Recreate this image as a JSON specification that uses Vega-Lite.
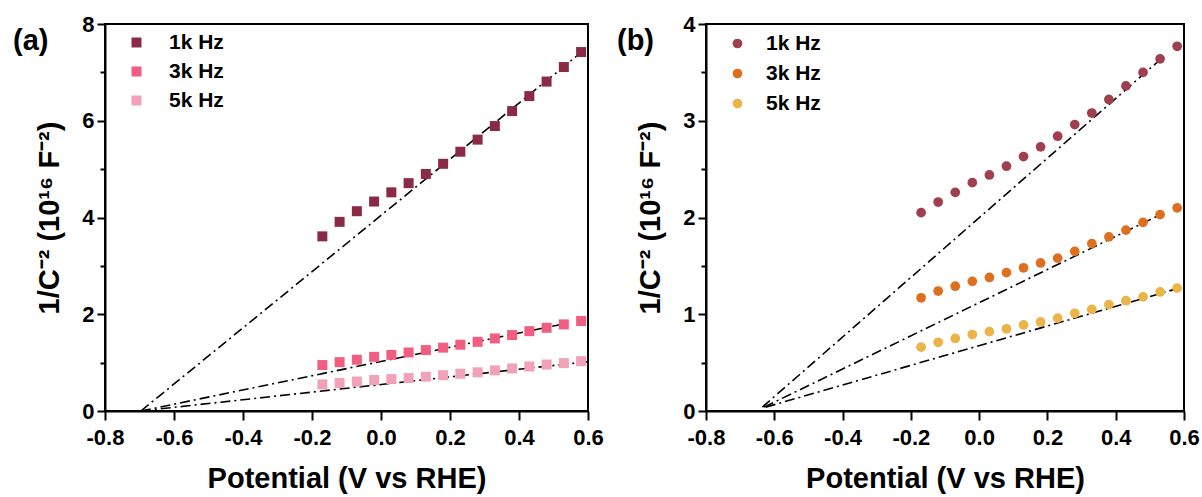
{
  "$schema": "https://vega.github.io/schema/vega-lite/v6.json",
  "background": "white",
  "padding": {"left": 12, "top": 12, "right": 0, "bottom": 0},
  "config": {
    "font": "Liberation Sans",
    "view": {"stroke": "black", "strokeWidth": 2},
    "axis": {
      "grid": false,
      "domainColor": "black",
      "domainWidth": 2,
      "tickColor": "black",
      "tickWidth": 2,
      "labelFont": "Liberation Sans",
      "labelFontSize": 22,
      "labelFontWeight": "bold",
      "labelColor": "black",
      "labelFlush": false,
      "labelOverlap": false,
      "titleFont": "Liberation Sans",
      "titleFontSize": 29,
      "titleFontWeight": "bold",
      "titleColor": "black"
    },
    "legend": {
      "orient": "none",
      "title": null,
      "labelFont": "Liberation Sans",
      "labelFontSize": 21,
      "labelFontWeight": "bold",
      "labelColor": "black",
      "padding": 0
    },
    "title": {
      "font": "Liberation Sans",
      "fontSize": 29,
      "fontWeight": "bold",
      "color": "black",
      "anchor": "start",
      "frame": "group",
      "baseline": "alphabetic",
      "offset": 0
    }
  },
  "datasets": {
    "a_pts": [
      {"v": -0.17, "c": 3.61, "f": "1k Hz"}, {"v": -0.12, "c": 3.91, "f": "1k Hz"},
      {"v": -0.07, "c": 4.13, "f": "1k Hz"}, {"v": -0.02, "c": 4.33, "f": "1k Hz"},
      {"v": 0.03, "c": 4.52, "f": "1k Hz"}, {"v": 0.08, "c": 4.71, "f": "1k Hz"},
      {"v": 0.13, "c": 4.9, "f": "1k Hz"}, {"v": 0.18, "c": 5.11, "f": "1k Hz"},
      {"v": 0.23, "c": 5.36, "f": "1k Hz"}, {"v": 0.28, "c": 5.61, "f": "1k Hz"},
      {"v": 0.33, "c": 5.89, "f": "1k Hz"}, {"v": 0.38, "c": 6.2, "f": "1k Hz"},
      {"v": 0.43, "c": 6.51, "f": "1k Hz"}, {"v": 0.48, "c": 6.81, "f": "1k Hz"},
      {"v": 0.53, "c": 7.11, "f": "1k Hz"}, {"v": 0.58, "c": 7.42, "f": "1k Hz"},
      {"v": -0.17, "c": 0.95, "f": "3k Hz"}, {"v": -0.12, "c": 1.01, "f": "3k Hz"},
      {"v": -0.07, "c": 1.06, "f": "3k Hz"}, {"v": -0.02, "c": 1.12, "f": "3k Hz"},
      {"v": 0.03, "c": 1.16, "f": "3k Hz"}, {"v": 0.08, "c": 1.21, "f": "3k Hz"},
      {"v": 0.13, "c": 1.26, "f": "3k Hz"}, {"v": 0.18, "c": 1.31, "f": "3k Hz"},
      {"v": 0.23, "c": 1.37, "f": "3k Hz"}, {"v": 0.28, "c": 1.43, "f": "3k Hz"},
      {"v": 0.33, "c": 1.5, "f": "3k Hz"}, {"v": 0.38, "c": 1.57, "f": "3k Hz"},
      {"v": 0.43, "c": 1.65, "f": "3k Hz"}, {"v": 0.48, "c": 1.72, "f": "3k Hz"},
      {"v": 0.53, "c": 1.79, "f": "3k Hz"}, {"v": 0.58, "c": 1.86, "f": "3k Hz"},
      {"v": -0.17, "c": 0.55, "f": "5k Hz"}, {"v": -0.12, "c": 0.58, "f": "5k Hz"},
      {"v": -0.07, "c": 0.61, "f": "5k Hz"}, {"v": -0.02, "c": 0.64, "f": "5k Hz"},
      {"v": 0.03, "c": 0.66, "f": "5k Hz"}, {"v": 0.08, "c": 0.68, "f": "5k Hz"},
      {"v": 0.13, "c": 0.71, "f": "5k Hz"}, {"v": 0.18, "c": 0.74, "f": "5k Hz"},
      {"v": 0.23, "c": 0.77, "f": "5k Hz"}, {"v": 0.28, "c": 0.8, "f": "5k Hz"},
      {"v": 0.33, "c": 0.84, "f": "5k Hz"}, {"v": 0.38, "c": 0.88, "f": "5k Hz"},
      {"v": 0.43, "c": 0.92, "f": "5k Hz"}, {"v": 0.48, "c": 0.96, "f": "5k Hz"},
      {"v": 0.53, "c": 0.99, "f": "5k Hz"}, {"v": 0.58, "c": 1.03, "f": "5k Hz"}
    ],
    "a_fit": [
      {"v": -0.696, "c": 0, "f": "1k Hz"}, {"v": 0.585, "c": 7.44, "f": "1k Hz"},
      {"v": -0.696, "c": 0, "f": "3k Hz"}, {"v": 0.542, "c": 1.82, "f": "3k Hz"},
      {"v": -0.696, "c": 0, "f": "5k Hz"}, {"v": 0.6, "c": 1.02, "f": "5k Hz"}
    ],
    "b_pts": [
      {"v": -0.17, "c": 2.05, "f": "1k Hz"}, {"v": -0.12, "c": 2.16, "f": "1k Hz"},
      {"v": -0.07, "c": 2.26, "f": "1k Hz"}, {"v": -0.02, "c": 2.36, "f": "1k Hz"},
      {"v": 0.03, "c": 2.44, "f": "1k Hz"}, {"v": 0.08, "c": 2.53, "f": "1k Hz"},
      {"v": 0.13, "c": 2.63, "f": "1k Hz"}, {"v": 0.18, "c": 2.73, "f": "1k Hz"},
      {"v": 0.23, "c": 2.84, "f": "1k Hz"}, {"v": 0.28, "c": 2.96, "f": "1k Hz"},
      {"v": 0.33, "c": 3.08, "f": "1k Hz"}, {"v": 0.38, "c": 3.22, "f": "1k Hz"},
      {"v": 0.43, "c": 3.36, "f": "1k Hz"}, {"v": 0.48, "c": 3.5, "f": "1k Hz"},
      {"v": 0.53, "c": 3.64, "f": "1k Hz"}, {"v": 0.58, "c": 3.77, "f": "1k Hz"},
      {"v": -0.17, "c": 1.17, "f": "3k Hz"}, {"v": -0.12, "c": 1.24, "f": "3k Hz"},
      {"v": -0.07, "c": 1.29, "f": "3k Hz"}, {"v": -0.02, "c": 1.34, "f": "3k Hz"},
      {"v": 0.03, "c": 1.38, "f": "3k Hz"}, {"v": 0.08, "c": 1.43, "f": "3k Hz"},
      {"v": 0.13, "c": 1.48, "f": "3k Hz"}, {"v": 0.18, "c": 1.53, "f": "3k Hz"},
      {"v": 0.23, "c": 1.58, "f": "3k Hz"}, {"v": 0.28, "c": 1.65, "f": "3k Hz"},
      {"v": 0.33, "c": 1.73, "f": "3k Hz"}, {"v": 0.38, "c": 1.8, "f": "3k Hz"},
      {"v": 0.43, "c": 1.87, "f": "3k Hz"}, {"v": 0.48, "c": 1.95, "f": "3k Hz"},
      {"v": 0.53, "c": 2.03, "f": "3k Hz"}, {"v": 0.58, "c": 2.1, "f": "3k Hz"},
      {"v": -0.17, "c": 0.66, "f": "5k Hz"}, {"v": -0.12, "c": 0.71, "f": "5k Hz"},
      {"v": -0.07, "c": 0.75, "f": "5k Hz"}, {"v": -0.02, "c": 0.79, "f": "5k Hz"},
      {"v": 0.03, "c": 0.82, "f": "5k Hz"}, {"v": 0.08, "c": 0.85, "f": "5k Hz"},
      {"v": 0.13, "c": 0.89, "f": "5k Hz"}, {"v": 0.18, "c": 0.92, "f": "5k Hz"},
      {"v": 0.23, "c": 0.96, "f": "5k Hz"}, {"v": 0.28, "c": 1.01, "f": "5k Hz"},
      {"v": 0.33, "c": 1.05, "f": "5k Hz"}, {"v": 0.38, "c": 1.1, "f": "5k Hz"},
      {"v": 0.43, "c": 1.14, "f": "5k Hz"}, {"v": 0.48, "c": 1.18, "f": "5k Hz"},
      {"v": 0.53, "c": 1.23, "f": "5k Hz"}, {"v": 0.58, "c": 1.27, "f": "5k Hz"}
    ],
    "b_fit": [
      {"v": -0.635, "c": 0.04, "f": "1k Hz"}, {"v": 0.533, "c": 3.64, "f": "1k Hz"},
      {"v": -0.63, "c": 0.04, "f": "3k Hz"}, {"v": 0.537, "c": 2.04, "f": "3k Hz"},
      {"v": -0.625, "c": 0.04, "f": "5k Hz"}, {"v": 0.595, "c": 1.28, "f": "5k Hz"}
    ]
  },
  "resolve": {
    "scale": {"color": "independent", "x": "independent", "y": "independent"},
    "legend": {"color": "independent"}
  },
  "spacing": 11,
  "hconcat": [
    {
      "width": 483,
      "height": 387,
      "title": {"text": "(a)", "dx": -92, "dy": 47},
      "layer": [
        {
          "data": {"name": "a_fit"},
          "mark": {"type": "line", "color": "black", "strokeWidth": 1.6, "strokeDash": [10, 4, 2, 4]},
          "encoding": {
            "x": {"field": "v", "type": "quantitative"},
            "y": {"field": "c", "type": "quantitative"},
            "detail": {"field": "f"}
          }
        },
        {
          "data": {"name": "a_pts"},
          "mark": {"type": "point", "shape": "square", "filled": true, "size": 100, "opacity": 1},
          "encoding": {
            "x": {
              "field": "v", "type": "quantitative",
              "scale": {"domain": [-0.8, 0.6], "nice": false, "zero": false},
              "axis": {
                "title": "Potential (V vs RHE)",
                "values": [-0.8, -0.7, -0.6, -0.5, -0.4, -0.3, -0.2, -0.1, 0, 0.1, 0.2, 0.3, 0.4, 0.5, 0.6],
                "labelExpr": "abs(round(datum.value*10)) % 2 == 0 ? (datum.value < 0 ? '-' : '') + format(abs(datum.value), '.1f') : ''",
                "tickSize": {"condition": {"test": "abs(round(datum.value*10)) % 2 == 0", "value": 9}, "value": 6},
                "labelPadding": 7,
                "titlePadding": 16
              }
            },
            "y": {
              "field": "c", "type": "quantitative",
              "scale": {"domain": [0, 8], "nice": false, "zero": false},
              "axis": {
                "title": "1/C⁻² (10¹⁶ F⁻²)",
                "values": [0, 1, 2, 3, 4, 5, 6, 7, 8],
                "labelExpr": "datum.value % 2 == 0 ? format(datum.value, 'd') : ''",
                "tickSize": {"condition": {"test": "datum.value % 2 == 0", "value": 8}, "value": 5},
                "labelPadding": 3,
                "titlePadding": 17
              }
            },
            "color": {
              "field": "f", "type": "nominal",
              "scale": {"domain": ["1k Hz", "3k Hz", "5k Hz"], "range": ["#8B2A46", "#F25E80", "#F2A2B8"]},
              "legend": {"legendX": 21, "legendY": 8, "rowPadding": 7, "symbolType": "square", "symbolSize": 100, "labelOffset": 22, "symbolStrokeWidth": 0}
            }
          }
        }
      ]
    },
    {
      "width": 478,
      "height": 387,
      "title": {"text": "(b)", "dx": -89, "dy": 47},
      "layer": [
        {
          "data": {"name": "b_fit"},
          "mark": {"type": "line", "color": "black", "strokeWidth": 1.6, "strokeDash": [10, 4, 2, 4]},
          "encoding": {
            "x": {"field": "v", "type": "quantitative"},
            "y": {"field": "c", "type": "quantitative"},
            "detail": {"field": "f"}
          }
        },
        {
          "data": {"name": "b_pts"},
          "mark": {"type": "circle", "size": 95, "opacity": 1},
          "encoding": {
            "x": {
              "field": "v", "type": "quantitative",
              "scale": {"domain": [-0.8, 0.6], "nice": false, "zero": false},
              "axis": {
                "title": "Potential (V vs RHE)",
                "values": [-0.8, -0.7, -0.6, -0.5, -0.4, -0.3, -0.2, -0.1, 0, 0.1, 0.2, 0.3, 0.4, 0.5, 0.6],
                "labelExpr": "abs(round(datum.value*10)) % 2 == 0 ? (datum.value < 0 ? '-' : '') + format(abs(datum.value), '.1f') : ''",
                "tickSize": {"condition": {"test": "abs(round(datum.value*10)) % 2 == 0", "value": 9}, "value": 6},
                "labelPadding": 7,
                "titlePadding": 16
              }
            },
            "y": {
              "field": "c", "type": "quantitative",
              "scale": {"domain": [0, 4], "nice": false, "zero": false},
              "axis": {
                "title": "1/C⁻² (10¹⁶ F⁻²)",
                "values": [0, 0.5, 1, 1.5, 2, 2.5, 3, 3.5, 4],
                "labelExpr": "datum.value % 1 == 0 ? format(datum.value, 'd') : ''",
                "tickSize": {"condition": {"test": "datum.value % 1 == 0", "value": 8}, "value": 5},
                "labelPadding": 3,
                "titlePadding": 17
              }
            },
            "color": {
              "field": "f", "type": "nominal",
              "scale": {"domain": ["1k Hz", "3k Hz", "5k Hz"], "range": ["#A13F4F", "#DE6F1F", "#ECB448"]},
              "legend": {"legendX": 21, "legendY": 9, "rowPadding": 8, "symbolType": "circle", "symbolSize": 95, "labelOffset": 18, "symbolStrokeWidth": 0}
            }
          }
        }
      ]
    }
  ]
}
